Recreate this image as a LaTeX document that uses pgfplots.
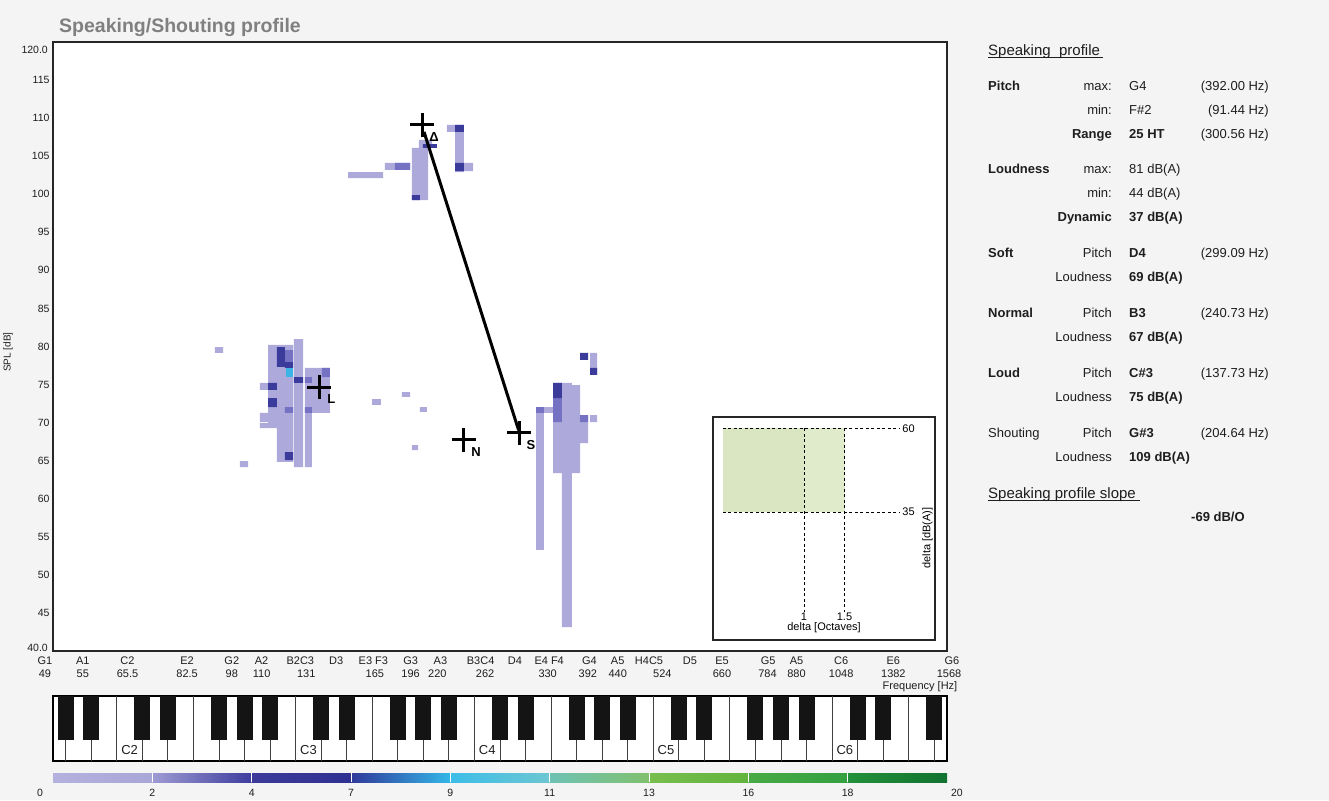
\documentclass[border=0pt]{standalone}
\usepackage{pgfplots}
\pgfplotsset{compat=1.18}
\usepackage{fontspec}
\setmainfont{Liberation Sans}

\definecolor{bg}{HTML}{F4F4F4}
\definecolor{txt}{HTML}{1E1E1E}
\definecolor{titleg}{HTML}{808080}
\definecolor{lav}{HTML}{ADAADB}
\definecolor{med}{HTML}{7572C3}
\definecolor{navy}{HTML}{3B3B9C}
\definecolor{cyanc}{HTML}{3DB4E6}
\definecolor{greena}{HTML}{D9E6C1}
\definecolor{greenb}{HTML}{E0EBCB}
\definecolor{keyblk}{HTML}{141414}

\newcommand{\fs}[1]{\fontsize{#1}{#1}\selectfont}

\begin{document}
\begin{tikzpicture}
\useasboundingbox (0pt,0pt) rectangle (1329pt,-800pt);
\fill[bg] (0pt,0pt) rectangle (1329pt,-800pt);

% ---------- main chart (x = semitones above G1) ----------
\begin{axis}[
  at={(53pt,-651pt)}, anchor=south west,
  scale only axis, width=894pt, height=609pt,
  xmin=0, xmax=60, ymin=40, ymax=120,
  axis background/.style={fill=white},
  axis line style={draw=black!85, line width=1.2pt},
  major tick length=0pt,
  clip=false,
  unbounded coords=jump,
  /pgf/number format/assume math mode=true,
  ytick={45,50,...,115},
  yticklabel style={font=\fs{10.5}, text=txt},
  xtick={2,5,9,12,14,16.6,19,21.5,24,26,28.7,31,33.3,36,37.9,40,42.75,44.9,48,49.9,52.9,56.4},
  xticklabels={A1,C2,E2,G2,A2,B2C3,D3,E3 F3,G3,A3,B3C4,D4,E4 F4,G4,A5,H4C5,D5,E5,G5,A5,C6,E6},
  xticklabel style={font=\fs{11}, text=txt, anchor=base, yshift=-13pt},
  extra x ticks={2,5,9,12,14,17,21.6,24,25.8,29,33.2,35.9,37.9,40.9,44.9,47.95,49.9,52.9,56.4},
  extra x tick labels={55,65.5,82.5,98,110,131,165,196,220,262,330,392,440,524,660,784,880,1048,1382},
  extra x tick style={tick label style={yshift=-13pt}},
]
% light cells
\addplot[fill=lav, draw=none, forget plot] coordinates {
(14.43,75.21) (16.11,75.21) (16.11,80.20) (14.43,80.20) (nan,nan)
(16.17,64.17) (16.78,64.17) (16.78,80.98) (16.17,80.98) (nan,nan)
(16.91,64.17) (17.38,64.17) (17.38,77.18) (16.91,77.18) (nan,nan)
(17.38,71.27) (18.59,71.27) (18.59,77.18) (17.38,77.18) (nan,nan)
(13.89,74.29) (15.10,74.29) (15.10,75.21) (13.89,75.21) (nan,nan)
(14.43,69.29) (16.11,69.29) (16.11,75.21) (14.43,75.21) (nan,nan)
(13.89,70.08) (14.43,70.08) (14.43,71.27) (13.89,71.27) (nan,nan)
(13.89,69.29) (15.10,69.29) (15.10,69.95) (13.89,69.95) (nan,nan)
(15.03,64.83) (16.11,64.83) (16.11,69.29) (15.03,69.29) (nan,nan)
(10.87,79.15) (11.41,79.15) (11.41,79.93) (10.87,79.93) (nan,nan)
(12.55,64.17) (13.09,64.17) (13.09,64.96) (12.55,64.96) (nan,nan)
(24.09,99.24) (25.17,99.24) (25.17,106.08) (24.09,106.08) (nan,nan)
(24.56,106.08) (25.44,106.08) (25.44,107.13) (24.56,107.13) (nan,nan)
(22.28,103.19) (23.96,103.19) (23.96,104.11) (22.28,104.11) (nan,nan)
(19.80,102.13) (22.15,102.13) (22.15,102.92) (19.80,102.92) (nan,nan)
(26.44,108.18) (27.58,108.18) (27.58,109.10) (26.44,109.10) (nan,nan)
(26.98,102.92) (27.58,102.92) (27.58,108.18) (26.98,108.18) (nan,nan)
(26.98,103.05) (28.19,103.05) (28.19,104.11) (26.98,104.11) (nan,nan)
(21.41,72.32) (22.01,72.32) (22.01,73.10) (21.41,73.10) (nan,nan)
(23.42,73.37) (23.96,73.37) (23.96,74.02) (23.42,74.02) (nan,nan)
(24.63,71.40) (25.10,71.40) (25.10,72.05) (24.63,72.05) (nan,nan)
(24.09,66.40) (24.50,66.40) (24.50,67.06) (24.09,67.06) (nan,nan)
(32.42,53.27) (32.95,53.27) (32.95,72.05) (32.42,72.05) (nan,nan)
(32.95,71.27) (33.56,71.27) (33.56,72.05) (32.95,72.05) (nan,nan)
(33.56,63.38) (34.16,63.38) (34.16,75.21) (33.56,75.21) (nan,nan)
(34.16,43.15) (34.83,43.15) (34.83,75.21) (34.16,75.21) (nan,nan)
(34.83,63.38) (35.37,63.38) (35.37,74.94) (34.83,74.94) (nan,nan)
(35.37,67.32) (35.91,67.32) (35.91,71.00) (35.37,71.00) (nan,nan)
(36.04,70.08) (36.51,70.08) (36.51,71.00) (36.04,71.00) (nan,nan)
(36.04,76.26) (36.51,76.26) (36.51,79.15) (36.04,79.15)
};
% medium cells
\addplot[fill=med, draw=none, forget plot] coordinates {
(15.57,71.27) (16.11,71.27) (16.11,72.05) (15.57,72.05) (nan,nan)
(16.91,71.27) (17.38,71.27) (17.38,72.05) (16.91,72.05) (nan,nan)
(18.05,75.99) (18.59,75.99) (18.59,77.18) (18.05,77.18) (nan,nan)
(16.91,75.21) (17.38,75.21) (17.38,75.99) (16.91,75.99) (nan,nan)
(15.57,77.96) (16.11,77.96) (16.11,79.54) (15.57,79.54) (nan,nan)
(22.95,103.19) (23.96,103.19) (23.96,104.11) (22.95,104.11) (nan,nan)
(32.42,71.27) (32.95,71.27) (32.95,72.05) (32.42,72.05) (nan,nan)
(33.56,70.08) (34.16,70.08) (34.16,73.23) (33.56,73.23) (nan,nan)
(35.37,70.08) (35.91,70.08) (35.91,71.00) (35.37,71.00)
};
% dark cells
\addplot[fill=navy, draw=none, forget plot] coordinates {
(15.03,77.31) (15.57,77.31) (15.57,79.93) (15.03,79.93) (nan,nan)
(15.57,77.18) (16.11,77.18) (16.11,77.96) (15.57,77.96) (nan,nan)
(16.17,75.21) (16.78,75.21) (16.78,75.99) (16.17,75.99) (nan,nan)
(14.43,74.29) (15.03,74.29) (15.03,75.21) (14.43,75.21) (nan,nan)
(14.43,72.05) (15.03,72.05) (15.03,73.23) (14.43,73.23) (nan,nan)
(15.57,65.09) (16.11,65.09) (16.11,66.14) (15.57,66.14) (nan,nan)
(24.83,106.08) (25.77,106.08) (25.77,106.60) (24.83,106.60) (nan,nan)
(24.09,99.24) (24.63,99.24) (24.63,99.90) (24.09,99.90) (nan,nan)
(26.98,108.18) (27.58,108.18) (27.58,109.10) (26.98,109.10) (nan,nan)
(26.98,103.05) (27.58,103.05) (27.58,104.11) (26.98,104.11) (nan,nan)
(33.56,73.23) (34.16,73.23) (34.16,75.21) (33.56,75.21) (nan,nan)
(35.37,78.23) (35.91,78.23) (35.91,79.15) (35.37,79.15) (nan,nan)
(36.04,76.26) (36.51,76.26) (36.51,77.18) (36.04,77.18)
};
\addplot[fill=cyanc, draw=none, forget plot] coordinates {
(15.64,75.99) (16.11,75.99) (16.11,77.18) (15.64,77.18)
};
% slope line and profile points
\addplot[black, line width=3pt, forget plot] coordinates {(24.9,108.2) (31.25,69.0)};
\addplot[only marks, mark=+, mark size=12pt, mark options={line width=3pt, black}] coordinates {
(24.77,109.10) (17.87,74.64) (27.58,67.72) (31.28,68.64)
};
\node[font=\fs{13}\bfseries, inner sep=0pt, xshift=12pt, yshift=-12pt] at (axis cs:24.77,109.10) {Δ};
\node[font=\fs{13}\bfseries, inner sep=0pt, xshift=12pt, yshift=-12pt] at (axis cs:17.87,74.64) {L};
\node[font=\fs{13}\bfseries, inner sep=0pt, xshift=12pt, yshift=-12pt] at (axis cs:27.58,67.72) {N};
\node[font=\fs{13}\bfseries, inner sep=0pt, xshift=12pt, yshift=-12pt] at (axis cs:31.28,68.64) {S};
\end{axis}

% ---------- inset ----------
\begin{axis}[
  at={(713pt,-640pt)}, anchor=south west,
  scale only axis, width=222pt, height=223pt,
  xmin=-0.123, xmax=2.617, ymin=-3.1, ymax=63.36,
  xtick=\empty, ytick=\empty, clip=false,
  axis background/.style={fill=white},
  axis line style={draw=black!85, line width=1.2pt},
]
\addplot[fill=greena, draw=none] coordinates {(0,35) (1,35) (1,60) (0,60)} -- cycle;
\addplot[fill=greenb, draw=none] coordinates {(1,35) (1.5,35) (1.5,60) (1,60)} -- cycle;
\addplot[black, line width=1pt, dash pattern=on 3pt off 2.5pt] coordinates {(0,60) (2.185,60)};
\addplot[black, line width=1pt, dash pattern=on 3pt off 2.5pt] coordinates {(0,35) (2.185,35)};
\addplot[black, line width=1pt, dash pattern=on 3pt off 2.5pt] coordinates {(1,60) (1,5.24)};
\addplot[black, line width=1pt, dash pattern=on 3pt off 2.5pt] coordinates {(1.5,60) (1.5,5.24)};
\node[font=\fs{11}, anchor=west, inner sep=1pt] at (axis cs:2.2,60) {60};
\node[font=\fs{11}, anchor=west, inner sep=1pt] at (axis cs:2.2,35) {35};
\node[font=\fs{11}] at (axis cs:1,3.9) {1};
\node[font=\fs{11}] at (axis cs:1.5,3.9) {1.5};
\node[font=\fs{11}] at (axis cs:1.247,0.6) {delta [Octaves]};
\node[font=\fs{11}, rotate=90] at (axis cs:2.525,27.3) {delta [dB(A)]};
\end{axis}

% ---------- keyboard ----------
\begin{axis}[
  at={(53pt,-761pt)}, anchor=south west,
  scale only axis, width=894pt, height=65pt,
  xmin=0, xmax=60, ymin=0, ymax=1,
  xtick=\empty, ytick=\empty,
  axis background/.style={fill=white},
  axis line style={draw=black, line width=1.6pt},
  unbounded coords=jump,
]
\addplot[ycomb, draw=black!75, line width=0.9pt, mark=none] coordinates {
(0.857,1) (2.571,1) (4.286,1) (6.0,1) (7.714,1) (9.429,1) (11.143,1) (12.857,1) (14.571,1)
(16.286,1) (18.0,1) (19.714,1) (21.429,1) (23.143,1) (24.857,1) (26.571,1) (28.286,1) (30.0,1)
(31.714,1) (33.429,1) (35.143,1) (36.857,1) (38.571,1) (40.286,1) (42.0,1) (43.714,1) (45.429,1)
(47.143,1) (48.857,1) (50.571,1) (52.286,1) (54.0,1) (55.714,1) (57.429,1) (59.143,1)
};
\addplot[draw=keyblk, line width=16pt, mark=none] coordinates {
(0.857,0.323) (0.857,1.05) (nan,nan) (2.571,0.323) (2.571,1.05) (nan,nan)
(6.0,0.323) (6.0,1.05) (nan,nan) (7.714,0.323) (7.714,1.05) (nan,nan)
(11.143,0.323) (11.143,1.05) (nan,nan) (12.857,0.323) (12.857,1.05) (nan,nan)
(14.571,0.323) (14.571,1.05) (nan,nan) (18.0,0.323) (18.0,1.05) (nan,nan)
(19.714,0.323) (19.714,1.05) (nan,nan) (23.143,0.323) (23.143,1.05) (nan,nan)
(24.857,0.323) (24.857,1.05) (nan,nan) (26.571,0.323) (26.571,1.05) (nan,nan)
(30.0,0.323) (30.0,1.05) (nan,nan) (31.714,0.323) (31.714,1.05) (nan,nan)
(35.143,0.323) (35.143,1.05) (nan,nan) (36.857,0.323) (36.857,1.05) (nan,nan)
(38.571,0.323) (38.571,1.05) (nan,nan) (42.0,0.323) (42.0,1.05) (nan,nan)
(43.714,0.323) (43.714,1.05) (nan,nan) (47.143,0.323) (47.143,1.05) (nan,nan)
(48.857,0.323) (48.857,1.05) (nan,nan) (50.571,0.323) (50.571,1.05) (nan,nan)
(54.0,0.323) (54.0,1.05) (nan,nan) (55.714,0.323) (55.714,1.05) (nan,nan)
(59.143,0.323) (59.143,1.05)
};
\node[font=\fs{13}, text=txt] at (axis cs:5.143,0.17) {C2};
\node[font=\fs{13}, text=txt] at (axis cs:17.143,0.17) {C3};
\node[font=\fs{13}, text=txt] at (axis cs:29.143,0.17) {C4};
\node[font=\fs{13}, text=txt] at (axis cs:41.143,0.17) {C5};
\node[font=\fs{13}, text=txt] at (axis cs:53.143,0.17) {C6};
\end{axis}

% ---------- colour scale ----------
\begin{axis}[
  at={(53pt,-782pt)}, anchor=south west,
  scale only axis, width=894pt, height=9pt,
  xmin=0, xmax=9, ymin=0, ymax=1,
  hide axis, clip=false, unbounded coords=jump,
]
\addplot[draw=none, left color={rgb,255:red,180;green,177;blue,222}, right color={rgb,255:red,169;green,166;blue,216}] coordinates {(0,0) (1,0) (1,1) (0,1)} -- cycle;
\addplot[draw=none, left color={rgb,255:red,158;green,155;blue,211}, right color={rgb,255:red,61;green,60;blue,158}] coordinates {(1,0) (2,0) (2,1) (1,1)} -- cycle;
\addplot[draw=none, left color={rgb,255:red,59;green,58;blue,154}, right color={rgb,255:red,47;green,49;blue,146}] coordinates {(2,0) (3,0) (3,1) (2,1)} -- cycle;
\addplot[draw=none, left color={rgb,255:red,48;green,57;blue,154}, right color={rgb,255:red,51;green,183;blue,232}] coordinates {(3,0) (4,0) (4,1) (3,1)} -- cycle;
\addplot[draw=none, left color={rgb,255:red,61;green,189;blue,232}, right color={rgb,255:red,108;green,198;blue,210}] coordinates {(4,0) (5,0) (5,1) (4,1)} -- cycle;
\addplot[draw=none, left color={rgb,255:red,110;green,194;blue,180}, right color={rgb,255:red,128;green,192;blue,110}] coordinates {(5,0) (6,0) (6,1) (5,1)} -- cycle;
\addplot[draw=none, left color={rgb,255:red,120;green,190;blue,78}, right color={rgb,255:red,98;green,180;blue,60}] coordinates {(6,0) (7,0) (7,1) (6,1)} -- cycle;
\addplot[draw=none, left color={rgb,255:red,72;green,170;blue,68}, right color={rgb,255:red,52;green,160;blue,64}] coordinates {(7,0) (8,0) (8,1) (7,1)} -- cycle;
\addplot[draw=none, left color={rgb,255:red,34;green,145;blue,58}, right color={rgb,255:red,18;green,114;blue,48}] coordinates {(8,0) (9,0) (9,1) (8,1)} -- cycle;
\addplot[white, line width=1pt] coordinates {
(1,0) (1,1) (nan,nan) (2,0) (2,1) (nan,nan) (3,0) (3,1) (nan,nan) (4,0) (4,1) (nan,nan)
(5,0) (5,1) (nan,nan) (6,0) (6,1) (nan,nan) (7,0) (7,1) (nan,nan) (8,0) (8,1)
};
\node[font=\fs{10.5}, text=txt, anchor=base, yshift=-14pt] at (axis cs:-0.13,0) {0};
\node[font=\fs{10.5}, text=txt, anchor=base, yshift=-14pt] at (axis cs:1,0) {2};
\node[font=\fs{10.5}, text=txt, anchor=base, yshift=-14pt] at (axis cs:2,0) {4};
\node[font=\fs{10.5}, text=txt, anchor=base, yshift=-14pt] at (axis cs:3,0) {7};
\node[font=\fs{10.5}, text=txt, anchor=base, yshift=-14pt] at (axis cs:4,0) {9};
\node[font=\fs{10.5}, text=txt, anchor=base, yshift=-14pt] at (axis cs:5,0) {11};
\node[font=\fs{10.5}, text=txt, anchor=base, yshift=-14pt] at (axis cs:6,0) {13};
\node[font=\fs{10.5}, text=txt, anchor=base, yshift=-14pt] at (axis cs:7,0) {16};
\node[font=\fs{10.5}, text=txt, anchor=base, yshift=-14pt] at (axis cs:8,0) {18};
\node[font=\fs{10.5}, text=txt, anchor=base, yshift=-14pt] at (axis cs:9.1,0) {20};
\end{axis}

% ---------- texts placed in pixel coordinates ----------
\begin{scope}[x=1pt, y=-1pt, every node/.style={inner sep=0pt, text=txt, font=\fs{13}}]
\node[anchor=base west, font=\fs{19.5}\bfseries, text=titleg] at (59,33) {Speaking/Shouting profile};
\node[anchor=base east, font=\fs{10.5}] at (48,53) {120.0};
\node[anchor=base east, font=\fs{10.5}] at (48,651) {40.0};
\node[rotate=90, font=\fs{10}] at (8,352) {SPL [dB]};
\node[anchor=base, font=\fs{11}] at (45,664) {G1};
\node[anchor=base, font=\fs{11}] at (45,677) {49};
\node[anchor=base, font=\fs{11}] at (952,664) {G6};
\node[anchor=base, font=\fs{11}] at (949,677) {1568};
\node[font=\fs{11}] at (920,687) {Frequency [Hz]};

\node[anchor=base west, font=\fs{15}] at (988,56) {Speaking\_profile};
\draw[txt, line width=0.9pt] (988,57.5) -- (1103,57.5);

\node[anchor=base west, font=\fs{13}\bfseries] at (988,90.5) {Pitch};
\node[anchor=base east] at (1112,90.5) {max:};
\node[anchor=base west] at (1129,90.5) {G4};
\node[anchor=base east] at (1269,90.5) {(392.00 Hz)};
\node[anchor=base east] at (1112,114.5) {min:};
\node[anchor=base west] at (1129,114.5) {F\#2};
\node[anchor=base east] at (1269,114.5) {(91.44 Hz)};
\node[anchor=base east, font=\fs{13}\bfseries] at (1112,138.5) {Range};
\node[anchor=base west, font=\fs{13}\bfseries] at (1129,138.5) {25 HT};
\node[anchor=base east] at (1269,138.5) {(300.56 Hz)};

\node[anchor=base west, font=\fs{13}\bfseries] at (988,173.5) {Loudness};
\node[anchor=base east] at (1112,173.5) {max:};
\node[anchor=base west] at (1129,173.5) {81 dB(A)};
\node[anchor=base east] at (1112,197.5) {min:};
\node[anchor=base west] at (1129,197.5) {44 dB(A)};
\node[anchor=base east, font=\fs{13}\bfseries] at (1112,221.5) {Dynamic};
\node[anchor=base west, font=\fs{13}\bfseries] at (1129,221.5) {37 dB(A)};

\node[anchor=base west, font=\fs{13}\bfseries] at (988,257.5) {Soft};
\node[anchor=base east] at (1112,257.5) {Pitch};
\node[anchor=base west, font=\fs{13}\bfseries] at (1129,257.5) {D4};
\node[anchor=base east] at (1269,257.5) {(299.09 Hz)};
\node[anchor=base east] at (1112,281.5) {Loudness};
\node[anchor=base west, font=\fs{13}\bfseries] at (1129,281.5) {69 dB(A)};

\node[anchor=base west, font=\fs{13}\bfseries] at (988,317.5) {Normal};
\node[anchor=base east] at (1112,317.5) {Pitch};
\node[anchor=base west, font=\fs{13}\bfseries] at (1129,317.5) {B3};
\node[anchor=base east] at (1269,317.5) {(240.73 Hz)};
\node[anchor=base east] at (1112,341.5) {Loudness};
\node[anchor=base west, font=\fs{13}\bfseries] at (1129,341.5) {67 dB(A)};

\node[anchor=base west, font=\fs{13}\bfseries] at (988,377.5) {Loud};
\node[anchor=base east] at (1112,377.5) {Pitch};
\node[anchor=base west, font=\fs{13}\bfseries] at (1129,377.5) {C\#3};
\node[anchor=base east] at (1269,377.5) {(137.73 Hz)};
\node[anchor=base east] at (1112,401.5) {Loudness};
\node[anchor=base west, font=\fs{13}\bfseries] at (1129,401.5) {75 dB(A)};

\node[anchor=base west] at (988,437.5) {Shouting};
\node[anchor=base east] at (1112,437.5) {Pitch};
\node[anchor=base west, font=\fs{13}\bfseries] at (1129,437.5) {G\#3};
\node[anchor=base east] at (1269,437.5) {(204.64 Hz)};
\node[anchor=base east] at (1112,461.5) {Loudness};
\node[anchor=base west, font=\fs{13}\bfseries] at (1129,461.5) {109 dB(A)};

\node[anchor=base west, font=\fs{15}] at (988,498) {Speaking profile slope};
\draw[txt, line width=0.9pt] (988,500) -- (1140,500);
\node[anchor=base west, font=\fs{13}\bfseries] at (1191,521.5) {-69 dB/O};
\end{scope}
\end{tikzpicture}
\end{document}
